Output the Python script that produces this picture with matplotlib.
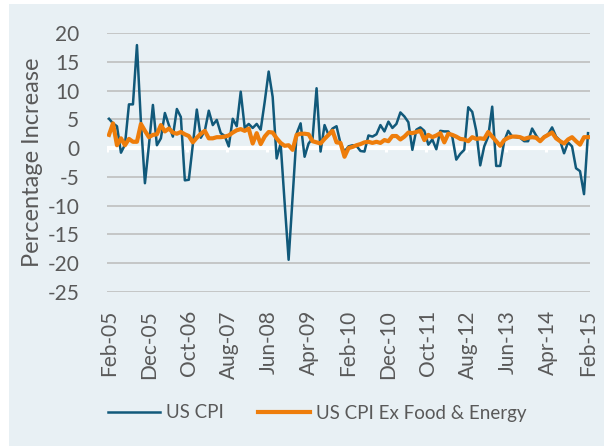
import numpy as np
import matplotlib
matplotlib.use("Agg")
import matplotlib.pyplot as plt
from matplotlib.patches import Rectangle

# Monthly annualised % change, Feb-05 .. Feb-15 (121 months)
cpi = [5.1, 4.3, 3.8, -0.8, 0.6, 7.6, 7.6, 17.9, 4.5, -6.1,
       0.5, 7.5, 0.5, 1.7, 6.1, 4.0, 2.0, 6.8, 5.4, -5.6,
       -5.5, 0.6, 6.7, 1.8, 3.0, 6.5, 4.0, 4.9, 2.6, 2.1,
       0.3, 5.1, 3.8, 9.8, 3.5, 4.2, 3.5, 4.2, 3.2, 8.0,
       13.3, 8.9, -1.8, 0.8, -9.5, -19.4, -8.5, 2.5, 4.3, -1.5,
       0.8, 1.7, 10.4, -0.6, 4.0, 2.3, 3.4, 3.8, 0.8, -0.6,
       0.3, 0.5, 0.4, -0.5, -0.6, 2.2, 2.0, 2.4, 4.0, 2.9,
       4.6, 3.5, 4.2, 6.2, 5.5, 4.5, -0.3, 3.2, 3.6, 3.0,
       0.6, 1.5, -0.2, 3.0, 2.9, 2.9, 2.0, -2.0, -1.0, -0.3,
       7.1, 6.3, 3.0, -3.0, 0.3, 2.0, 7.2, -3.1, -3.1, 1.2,
       3.0, 2.0, 1.9, 1.8, 1.2, 1.2, 3.4, 2.2, 1.2, 2.0,
       2.4, 3.6, 2.0, 1.3, -0.9, 1.0, 0.3, -3.5, -4.0, -8.0,
       2.6]
core = [2.3, 4.3, 0.5, 1.7, 0.5, 1.6, 1.1, 1.1, 4.2, 3.0,
        1.9, 2.3, 2.4, 4.0, 2.9, 3.4, 2.7, 2.5, 2.8, 2.4,
        2.1, 1.0, 1.8, 2.5, 3.0, 1.7, 1.7, 1.9, 1.9, 2.0,
        2.2, 2.7, 3.1, 3.3, 3.0, 3.4, 0.8, 2.6, 0.7, 2.0,
        2.8, 2.7, 1.7, 0.9, 0.4, 0.5, -0.3, 2.3, 2.5, 2.5,
        2.4, 1.2, 1.0, 0.8, 1.6, 2.3, 3.0, 1.0, 0.9, -1.5,
        0.0, 0.2, 0.5, 0.7, 1.0, 1.1, 0.9, 1.1, 0.9, 1.4,
        1.2, 2.1, 2.1, 1.5, 2.0, 2.7, 2.6, 2.8, 3.0, 1.4,
        2.3, 1.9, 2.2, 2.6, 1.0, 2.5, 2.3, 2.0, 1.6, 1.5,
        1.2, 1.9, 1.6, 1.7, 1.6, 2.8, 2.0, 1.2, 0.4, 1.4,
        1.8, 2.0, 2.0, 1.9, 1.6, 1.8, 1.9, 1.8, 1.2, 1.9,
        2.3, 2.7, 1.7, 1.2, 0.8, 1.5, 1.9, 1.2, 0.6, 1.9,
        1.9]
tick_labels = ["Feb-05", "Dec-05", "Oct-06", "Aug-07", "Jun-08", "Apr-09",
               "Feb-10", "Dec-10", "Oct-11", "Aug-12", "Jun-13", "Apr-14",
               "Feb-15"]
y_ticks = list(range(-25, 25, 5))

bg = "#E8F0F4"
txt = "#595959"
plt.rcParams["font.family"] = ["Lato", "DejaVu Sans"]
plt.rcParams["axes.unicode_minus"] = False

fig = plt.figure(figsize=(6.04, 4.46), dpi=100)
fig.patches.append(Rectangle((9 / 604, 0), 1, 1 - 4 / 446, transform=fig.transFigure,
                             facecolor=bg, edgecolor="none", zorder=-10))
ax = fig.add_axes([107 / 604, 1 - 292 / 446, 483 / 604, 259 / 446])
ax.set_facecolor(bg)
for s in ax.spines.values():
    s.set_visible(False)

x = np.arange(len(cpi))
ax.set_xlim(-0.5, len(cpi) - 0.5)
ax.set_ylim(-25, 20)

for v in y_ticks:
    if v != 0:
        ax.axhline(v, color="#BFBFBF", lw=1.2, zorder=1)
ax.axhline(0, color="white", lw=3, zorder=2)
# white tick marks under the zero line, between categories
ax.vlines(np.arange(-0.5, len(cpi), 10), -0.75, 0, color="white", lw=2.2, zorder=2)

ax.plot(x, cpi, color="#11597A", lw=1.8, label="US CPI", zorder=3)
ax.plot(x, core, color="#EE7D0B", lw=3.0, label="US CPI Ex Food & Energy", zorder=4)

ax.set_yticks(y_ticks)
ax.set_xticks(np.arange(0, len(cpi), 10))
ax.set_xticklabels(tick_labels, rotation=90)
ax.tick_params(axis="both", length=0, colors=txt, labelsize=15)
ax.tick_params(axis="y", pad=20)
ax.tick_params(axis="x", pad=13)
ax.set_ylabel("Percentage Increase", color=txt, fontsize=17, labelpad=3)

ax.legend(loc="center", bbox_to_anchor=(0.525, 1 - 413 / 446), bbox_transform=fig.transFigure,
          ncol=2, frameon=False, fontsize=13.5, labelcolor=txt, handlelength=2.8,
          handletextpad=0.3, columnspacing=1.8)

fig.savefig("out.png", dpi=100, facecolor="white")
